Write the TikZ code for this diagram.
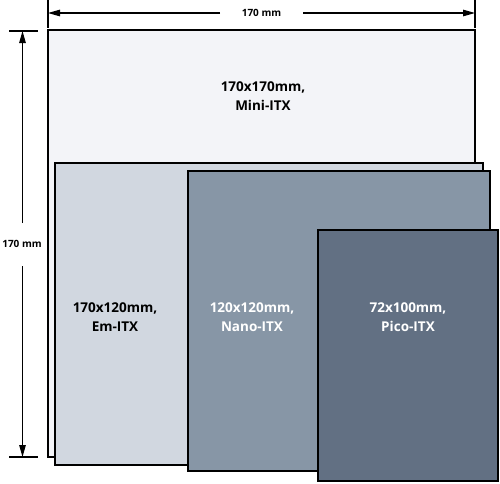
\documentclass[tikz,border=0pt]{standalone}
\usepackage{fontspec}
\setmainfont{Open Sans}
\usetikzlibrary{arrows.meta}
\definecolor{miniC}{HTML}{F3F4F8}
\definecolor{emC}{HTML}{D1D7E0}
\definecolor{nanoC}{HTML}{8796A6}
\definecolor{picoC}{HTML}{627083}
\tikzset{
  board/.style={draw=black, line width=2.6pt, anchor=north west, inner sep=0pt, outer sep=0pt},
  lbl/.style={font=\fontsize{13.5}{19.5}\selectfont\bfseries, align=center, inner sep=0pt},
  dimlbl/.style={font=\fontsize{10}{12}\selectfont\bfseries, inner sep=0pt},
  dimline/.style={line width=1.2pt, -{Triangle[length=12pt,width=6.5pt]}},
  tick/.style={line width=1.2pt}
}
\begin{document}
\begin{tikzpicture}[x=1pt,y=-1pt]
\useasboundingbox (0,0) rectangle (500,483);
% boards
\node[board, fill=miniC, minimum width=427pt, minimum height=427pt] (mini) at (48,30) {};
\node[board, fill=emC, minimum width=428pt, minimum height=302pt] (em) at (55,163) {};
\node[board, fill=nanoC, minimum width=302pt, minimum height=300pt] (nano) at (188,171) {};
\node[board, fill=picoC, minimum width=180pt, minimum height=251pt] (pico) at (318,230) {};
% labels
\node[lbl] (tmini) at (263,96) {170x170mm,\\Mini-ITX};
\node[lbl] (tem) at (115,317) {170x120mm,\\Em-ITX};
\node[lbl, text=white] (tnano) at (252,317) {120x120mm,\\Nano-ITX};
\node[lbl, text=white] (tpico) at (408,317) {72x100mm,\\Pico-ITX};
% top dimension
\coordinate (tl0) at (48,0); \coordinate (tl1) at (48,28);
\coordinate (tr0) at (475,0); \coordinate (tr1) at (475,28);
\draw[tick] (tl0) -- (tl1);
\draw[tick] (tr0) -- (tr1);
\node[dimlbl] (wlbl) at (261.5,13) {170 mm};
\coordinate (wa) at (220,13); \coordinate (wb) at (303,13);
\coordinate (wl) at (48,13); \coordinate (wr) at (475,13);
\draw[dimline] (wa) -- (wl);
\draw[dimline] (wb) -- (wr);
% left dimension
\coordinate (lt0) at (9,31); \coordinate (lt1) at (38,31);
\coordinate (lb0) at (9,457); \coordinate (lb1) at (38,457);
\draw[tick] (lt0) -- (lt1);
\draw[tick] (lb0) -- (lb1);
\node[dimlbl] (hlbl) at (22,244) {170 mm};
\coordinate (ha) at (22.5,223); \coordinate (hb) at (22.5,266);
\coordinate (ht) at (22.5,31); \coordinate (hbt) at (22.5,457);
\draw[dimline] (ha) -- (ht);
\draw[dimline] (hb) -- (hbt);
\end{tikzpicture}
\end{document}
